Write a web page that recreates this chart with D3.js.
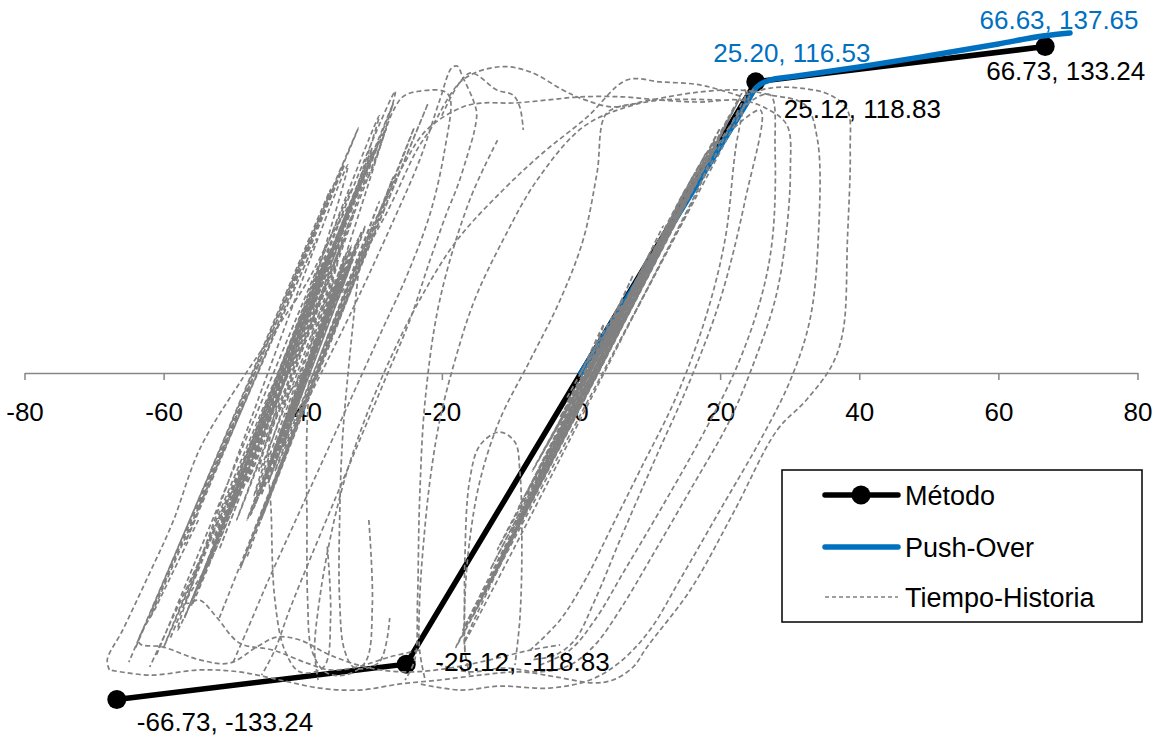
<!DOCTYPE html>
<html><head><meta charset="utf-8">
<script src="https://cdn.jsdelivr.net/npm/d3@7"></script>
<style>html,body{margin:0;padding:0;background:#fff;} svg{display:block;}</style>
</head><body>
<svg id="chart" width="1162" height="738"></svg>
<script>
// ---------- data ----------
const xTicks = [-80, -60, -40, -20, 0, 20, 40, 60, 80];

const metodoX = [-66.73, -25.12, 25.12, 66.73];
const metodoY = [-133.24, -118.83, 118.83, 133.24];
const metodoLabels = ["-66.73, -133.24", "-25.12, -118.83", "25.12, 118.83", "66.73, 133.24"];

const pushX = [0, 10, 20, 23.5, 25.2, 27.2, 30, 40, 50, 60, 66.63, 70.3];
const pushY = [0, 46.2, 92.4, 108.6, 116.53, 119.6, 120.8, 124.9, 129.5, 134.3, 137.65, 138.8];
const pushLabelIndex = [4, 10];
const pushLabels = ["25.20, 116.53", "66.63, 137.65"];

const seriesNames = ["Método", "Push-Over", "Tiempo-Historia"];

// Tiempo-Historia hysteresis strokes (displacement, force)
const thCenter = [[0,0],[3.3,20],[-1.5,-15],[7.5,40],[-4,-30],[11.8,60],[-6.5,-45],[16,80],[-9,-60],[19.2,95],[-11.5,-75],[21.3,105],[-14,-90],[22.8,112],[-15.7,-100],[14.9,70],[-5.7,-40],[10.1,50],[-16.8,-110],[24,115]];
const thCenter2 = [[-2,-10],[6,30],[-8,-50],[15,75],[-10,-65],[18,90],[-13,-80],[20,100],[-15,-95],[22,108],[-17,-105],[12,58],[-9,-55],[17,85],[-12,-72],[21,102],[-18,-112],[25,117]];
const thCenterCore = [[1,5],[8,35],[-3,-20],[10,45],[-5,-30],[6,28],[-2,-12],[12,55],[-6,-35],[9,42],[-4,-25],[13,60],[-7,-40],[5,22],[-1,-8],[11,50],[-5,-30],[14,65],[-3,-18],[7,32]];
const thOuterRight = [[23.6,113.5],[27.2,116.3],[31.5,116.3],[35.8,113.5],[38.3,107.3],[38.7,91],[38.3,54.3],[37.7,17.6],[36.1,3.3],[32.4,-11],[28.2,-23.3],[21.9,-57.1],[15.7,-88.6],[9.5,-111.8],[7.5,-120],[4.6,-125.3],[1.7,-126.5],[-3.5,-124.1],[-8.8,-122],[-14.5,-123.3],[-20.3,-125.3],[-26,-126.9],[-31.8,-129.4],[-37.6,-128.6],[-43.3,-125.3],[-49.1,-122],[-54.8,-121.2],[-62,-123.3],[-67.8,-121.2]];
const thOuterLeft = [[-67.8,-121.2],[-68.1,-117],[-65.9,-105],[-62.4,-84],[-58.7,-61],[-54.8,-31],[-48.6,-2],[-44.3,16],[-39.4,37],[-35.7,57],[-32.8,71],[-30.4,81],[-27,107],[-25.5,113],[-23.3,115],[-19.7,115],[-18.8,112],[-19.6,91],[-21.7,65],[-25,40],[-29,15],[-33,-10],[-37,-35],[-41,-60],[-45,-85],[-48,-105],[-50,-118]];
const thLeftBand = [[-61,-115],[-33,75],[-54,-80],[-29,95],[-49.5,-60],[-34,55],[-56,-95],[-29,105],[-47,-50],[-35,45],[-58,-105],[-33.5,85],[-46.3,-40],[-32.7,65],[-53.1,-70],[-26.7,115],[-42.8,-30],[-35.4,35],[-62,-120]];
const thLeftBand2 = [[-59,-108],[-30,90],[-52,-72],[-31,82],[-57,-100],[-27,110],[-50,-55],[-36,50],[-60,-112],[-28,100],[-48,-45],[-33,70],[-55,-88],[-30,92],[-45,-20]];
const thLeftBand3 = [[-64,-112],[-36,75],[-57,-70],[-34,85],[-62,-100],[-38,55],[-55,-55],[-32,100],[-65,-118]];
const thLeftBand4 = [[-52,-100],[-24,100],[-46,-60],[-27,80],[-49,-80],[-30,60],[-44,-40],[-22,110],[-41,-20],[-29,70],[-48,-75]];
const thLeftCore = [[-45,-40],[-33.5,50],[-46,-50],[-32,55],[-44,-30],[-34.5,40],[-48,-60],[-31,60],[-45,-45],[-33,45],[-47,-55],[-32.5,50],[-43,-25],[-35,35],[-46.5,-50],[-31.5,58],[-45.5,-42],[-34,42],[-47.5,-58],[-32,52]];
const thLeftCore2 = [[-50,-50],[-37,45],[-49,-40],[-36,50],[-51,-60],[-38,40],[-48,-35],[-35,55],[-50,-55],[-37,42]];
const thLeftCore3 = [[-44,-35],[-34,48],[-45,-45],[-33,50],[-43,-28],[-35.5,38],[-46,-48],[-33,52],[-42,-20],[-36,30],[-45,-40],[-34,45]];
const thArcB = [[-40,-15],[-33,25],[-27,62],[-23.2,86.9],[-20.3,111.4],[-18.6,124.5],[-17.8,125.3],[-17,120.8],[-15.5,111.4],[-15,106.1],[-15.3,99.2],[-16.4,88.2],[-17.8,75.9],[-19.3,65.3],[-21.7,46.1],[-24.6,21.6],[-28.2,-2.9],[-31.8,-27.3],[-35.4,-51.8],[-39,-76.3],[-41.9,-96.7],[-44,-113],[-45.9,-123.3]];
const thArcC = [[-35,30],[-28,65],[-23.6,91],[-21.7,99.2],[-17,119.6],[-11.7,125],[-7.3,122.9],[-2.6,115.5],[-0.1,112.2],[4.6,108.6],[9.9,111.4],[17.1,114.7],[22.9,115.5],[27.2,113.5],[32.2,109.4],[34,95.1],[34.1,54.3],[32.9,21.6],[30.1,-2.9],[25.8,-27.3],[20,-55.9],[14.2,-84.5],[9.9,-104.9],[5.6,-118],[1.3,-125.3],[-4.5,-128.6],[-11.7,-127.8],[-17.4,-129.4],[-23.2,-126.9]];
const thLineD = [[-30,60],[-25.5,85],[-22.2,99.2],[-17,108.6],[-14.1,110.2],[-9.8,110.2],[-4.9,111.4],[-0.1,112.7],[6,112.7],[11.4,111.4],[17.1,110.6],[22.9,111.4],[26.5,108.2],[29.6,101.2],[30.1,82.9],[29.4,54.3],[27.9,29.8],[25,5.3],[21.4,-19.2],[15.7,-47.8],[9.9,-76.3],[5.6,-96.7],[2,-111],[-1.6,-119.2],[-5.9,-122],[-10.9,-120.4],[-16,-122],[-20.3,-119.2]];
const thDiag1 = [[22.9,113],[17.1,117.6],[11.4,118.8],[6.6,119.6],[0.9,104.5],[-5.5,89.8],[-11.2,74.7],[-17.8,54.3],[-23.2,29.8],[-27.5,5.3],[-31.1,-19.2],[-34,-43.7],[-36.1,-68.2],[-37.6,-92.7],[-38.3,-113.1],[-37.8,-125.3]];
const thDiag2 = [[20,111.4],[11.4,111.4],[6.6,108.6],[0.3,100.4],[-6.3,78.8],[-11.2,54.3],[-15.3,29.8],[-18.1,5.3],[-20.3,-19.2],[-21.7,-43.7],[-22.6,-68.2],[-23.2,-92.7],[-23.2,-113.1],[-22.4,-125.3]];
const thDiag3 = [[8,110],[3.7,106.1],[2.3,81.6],[0.3,54.3],[-3,29.8],[-7.3,5.3],[-11.7,-19.2],[-14.5,-43.7],[-16,-68.2],[-16.7,-92.7],[-16.7,-113.1],[-16,-123.3]];
const thLineE = [[-20,105],[-16,122.4],[-12.1,115.5],[-9.8,113.5],[-8.8,108.6],[-8.3,99.2]];
const thR2 = [[22,100],[25.8,107.3],[23.6,70.6],[20,29.8],[15.7,-2.9],[10.6,-35.5],[5.6,-68.2],[2,-92.7],[-0.9,-109],[-3.7,-115.1],[-7.3,-117.1]];
const thR3 = [[5,10],[16,70],[21,103],[23.6,115.5],[22.2,91],[20.7,54.3],[17.8,21.6],[13.5,-11],[8.5,-39.6],[4.2,-64.1],[0.6,-84.5],[-3,-100.8],[-7.3,-113.1]];
const thR4 = [[18,85],[24,110],[27.2,113.5],[27.9,91],[27.5,54.3],[25.8,29.8],[22.2,1.2],[17.1,-27.3],[11.4,-55.9],[6.3,-80.4],[2,-100.8],[-1.6,-113.1],[-5.9,-119.2]];
const thV1 = [[-40,0],[-44.5,-23.3],[-44.5,-60],[-44,-92.7],[-42.6,-113.1],[-40.4,-122],[-37,-120],[-36,-100],[-36.5,-70]];
const thV2 = [[-38.3,29.8],[-39.4,-23.3],[-39.4,-60],[-39.3,-92.7],[-38.7,-113.1],[-36.8,-122],[-34,-123.3],[-31,-118],[-30,-95],[-30.5,-60]];
const thV3 = [[-31.8,46.1],[-34.2,-23.3],[-34.7,-60],[-34.7,-92.7],[-34,-113.1],[-32.5,-120.4],[-29,-118],[-27.5,-100]];
const thV4 = [[-12,95],[-16,70.6],[-20.3,29.8],[-22.4,-11],[-23.2,-51.8],[-23.5,-92.7],[-23.9,-117.1],[-25.3,-125.3]];
const thArch = [[-16.7,-113.1],[-16.7,-76.3],[-16,-43.7],[-14.5,-29.4],[-11.7,-24.1],[-9.5,-28.2],[-8.8,-39.6],[-8.5,-72.2],[-8.8,-100.8],[-9.5,-119.2]];
const thBottomW1 = [[-48,-40],[-53,-75],[-56.7,-93.9],[-54.8,-92.7],[-52.4,-99.6],[-49.1,-110.2],[-44.3,-113.1],[-39.4,-118.4],[-36.1,-121.2],[-32.2,-120],[-27.5,-115.9],[-23.2,-113.1]];
const thBottomW2 = [[-55,-60],[-61,-95],[-63.5,-110.2],[-60.1,-111.8],[-54.8,-117.1],[-50.5,-118.4],[-46.6,-111.8],[-43.7,-107.8],[-40.4,-109],[-36.1,-115.1],[-30.4,-120.4],[-24.6,-122],[-18.8,-120.4],[-13.1,-117.1],[-7.3,-113.1],[-3,-111]];

const thStrokes = [thCenter, thCenter2, thCenterCore, thOuterRight, thOuterLeft,
  thLeftBand, thLeftBand2, thLeftBand3, thLeftBand4, thLeftCore, thLeftCore2, thLeftCore3,
  thArcB, thArcC, thLineD, thDiag1, thDiag2, thDiag3, thLineE, thR2, thR3, thR4,
  thV1, thV2, thV3, thV4, thArch, thBottomW1, thBottomW2];

// ---------- layout ----------
const svg = d3.select("#chart");
const x = d3.scaleLinear().domain([-80, 80]).range([24.5, 1137.5]);
const y = d3.scaleLinear().domain([-150, 150]).range([373 + 150 * 2.45, 373 - 150 * 2.45]);
const FONT = "'Liberation Sans', Arial, sans-serif";
const GRAY = "#808080";

// axis
const axis = d3.axisBottom(x).tickValues(xTicks).tickSizeInner(7).tickSizeOuter(0).tickFormat(d => String(d));
const gAx = svg.append("g").attr("transform", `translate(0,${y(0)})`).call(axis);
gAx.select(".domain").attr("stroke", "#868686").attr("stroke-width", 1.5);
gAx.selectAll(".tick line").attr("stroke", "#868686").attr("stroke-width", 1.5);
gAx.selectAll(".tick text").attr("y", 48).attr("dy", null)
  .attr("font-family", FONT).attr("font-size", 26).attr("fill", "#000");

// Método
const metodo = metodoX.map((v, i) => [v, metodoY[i]]);
const lineLin = d3.line().x(d => x(d[0])).y(d => y(d[1]));
svg.append("path").attr("d", lineLin(metodo)).attr("fill", "none")
  .attr("stroke", "#000").attr("stroke-width", 5.5).attr("stroke-linejoin", "round");
svg.selectAll("circle.m").data(metodo).enter().append("circle").attr("class", "m")
  .attr("cx", d => x(d[0])).attr("cy", d => y(d[1])).attr("r", 9.5).attr("fill", "#000");

// Push-Over
const push = pushX.map((v, i) => [v, pushY[i]]);
svg.append("path").attr("d", d3.line().x(d => x(d[0])).y(d => y(d[1])).curve(d3.curveMonotoneX)(push))
  .attr("fill", "none").attr("stroke", "#0070c0").attr("stroke-width", 5.5).attr("stroke-linecap", "round");

// Tiempo-Historia
const lineTH = d3.line().x(d => x(d[0])).y(d => y(d[1])).curve(d3.curveCatmullRom.alpha(0.5));
svg.append("g").selectAll("path").data(thStrokes).enter().append("path")
  .attr("d", d => lineTH(d)).attr("fill", "none").attr("stroke", GRAY)
  .attr("stroke-width", 1.7).attr("stroke-dasharray", "5,3");

// labels
const metodoOffsets = [[20, 32], [29, 7], [28, 36], [-59, 33]];
svg.selectAll("text.ml").data(metodo).enter().append("text").attr("class", "ml")
  .attr("x", (d, i) => x(d[0]) + metodoOffsets[i][0]).attr("y", (d, i) => y(d[1]) + metodoOffsets[i][1])
  .attr("font-family", FONT).attr("font-size", 26).attr("fill", "#000")
  .text((d, i) => metodoLabels[i]);
const pushOffsets = [[-43, -26], [-65, -7]];
svg.selectAll("text.pl").data(pushLabelIndex).enter().append("text").attr("class", "pl")
  .attr("x", (d, i) => x(pushX[d]) + pushOffsets[i][0]).attr("y", (d, i) => y(pushY[d]) + pushOffsets[i][1])
  .attr("font-family", FONT).attr("font-size", 26).attr("fill", "#0070c0")
  .text((d, i) => pushLabels[i]);

// legend
const lg = svg.append("g");
lg.append("rect").attr("x", 782).attr("y", 470).attr("width", 360).attr("height", 152)
  .attr("fill", "#fff").attr("stroke", "#000").attr("stroke-width", 1.5);
const ly = [495, 547, 597];
lg.append("line").attr("x1", 825).attr("x2", 898).attr("y1", ly[0]).attr("y2", ly[0])
  .attr("stroke", "#000").attr("stroke-width", 5.5).attr("stroke-linecap", "round");
lg.append("circle").attr("cx", 861).attr("cy", ly[0]).attr("r", 9.5).attr("fill", "#000");
lg.append("line").attr("x1", 825).attr("x2", 898).attr("y1", ly[1]).attr("y2", ly[1])
  .attr("stroke", "#0070c0").attr("stroke-width", 5.5).attr("stroke-linecap", "round");
lg.append("line").attr("x1", 825).attr("x2", 898).attr("y1", ly[2]).attr("y2", ly[2])
  .attr("stroke", GRAY).attr("stroke-width", 1.4).attr("stroke-dasharray", "4,3");
lg.selectAll("text").data(seriesNames).enter().append("text")
  .attr("x", 905).attr("y", (d, i) => ly[i] + 10)
  .attr("font-family", FONT).attr("font-size", 27).attr("fill", "#000").text(d => d);
</script>
</body></html>
